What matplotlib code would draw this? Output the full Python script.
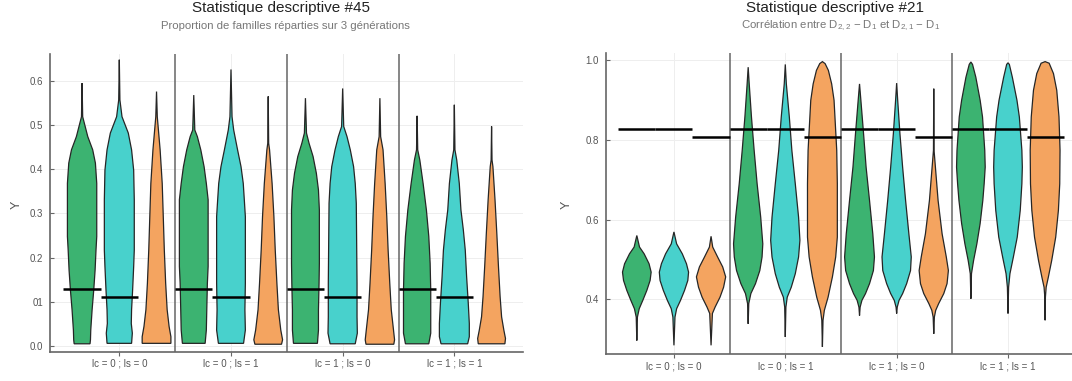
import numpy as np
import matplotlib
matplotlib.use('agg')
import matplotlib.pyplot as plt

plt.rcParams['font.family'] = ['Liberation Sans', 'DejaVu Sans']
plt.rcParams['mathtext.fontset'] = 'custom'
plt.rcParams['mathtext.rm'] = 'Liberation Sans'
plt.rcParams['mathtext.it'] = 'Liberation Sans:italic'

## Donnees
groupes = ['lc = 0 ; ls = 0', 'lc = 0 ; ls = 1', 'lc = 1 ; ls = 0', 'lc = 1 ; ls = 1']

# Statistique #45 : profils des violons (niveaux Y, densite relative), un par groupe
s45_vert_y = [[0.595, 0.519, 0.474, 0.444, 0.414, 0.368, 0.248, 0.217, 0.172, 0.127, 0.082, 0.036, 0.014, 0.005],
              [0.568, 0.489, 0.474, 0.444, 0.406, 0.368, 0.331, 0.180, 0.142, 0.082, 0.036, 0.006],
              [0.561, 0.482, 0.459, 0.429, 0.391, 0.353, 0.308, 0.187, 0.142, 0.082, 0.036, 0.006],
              [0.521, 0.444, 0.421, 0.368, 0.308, 0.248, 0.187, 0.127, 0.066, 0.029, 0.005]]
s45_vert_d = [[0, .04, .38, .71, .89, .98, .98, .93, .87, .78, .67, .58, .56, .53],
              [0, .07, .24, .47, .69, .84, .96, .96, .91, .87, .84, .76],
              [0, .07, .24, .51, .73, .87, .93, .93, .91, .87, .87, .80],
              [0, .04, .18, .40, .62, .78, .87, .91, .91, .91, .78]]
s45_cyan_y = [[0.648, 0.557, 0.519, 0.482, 0.444, 0.398, 0.331, 0.217, 0.180, 0.127, 0.082, 0.051, 0.029, 0.006],
              [0.626, 0.519, 0.489, 0.444, 0.406, 0.368, 0.331, 0.293, 0.142, 0.082, 0.036, 0.006],
              [0.583, 0.497, 0.474, 0.444, 0.406, 0.368, 0.323, 0.142, 0.066, 0.029, 0.005],
              [0.546, 0.444, 0.421, 0.368, 0.308, 0.263, 0.217, 0.157, 0.097, 0.051, 0.021, 0.005]]
s45_cyan_d = [[0, .04, .18, .60, .82, .96, 1, 1, .96, .89, .82, .80, .87, .82],
              [0, .07, .18, .44, .67, .82, .89, .96, .96, .93, .96, .84],
              [0, .07, .29, .51, .73, .84, .91, .96, .96, .98, .84],
              [0, .04, .16, .33, .44, .60, .73, .82, .93, 1, 1, .89]]
s45_orange_y = [[0.576, 0.519, 0.444, 0.368, 0.293, 0.217, 0.142, 0.082, 0.044, 0.021, 0.006],
                [0.565, 0.459, 0.444, 0.368, 0.293, 0.217, 0.142, 0.082, 0.036, 0.014, 0.004],
                [0.561, 0.474, 0.444, 0.368, 0.293, 0.217, 0.142, 0.082, 0.036, 0.014, 0.004],
                [0.497, 0.421, 0.406, 0.331, 0.255, 0.180, 0.112, 0.066, 0.036, 0.017, 0.005]]
s45_orange_d = [[0, .05, .24, .38, .45, .52, .61, .71, .84, .96, .96],
                [0, .03, .09, .26, .38, .47, .58, .68, .84, .96, .89],
                [0, .05, .21, .35, .46, .55, .66, .76, .91, .98, .93],
                [0, .03, .09, .23, .35, .46, .57, .67, .82, .93, .89]]
s45_ligne = [0.128, 0.111, None]

# Statistique #21
s21_vert_y = [[0.560, 0.531, 0.514, 0.489, 0.468, 0.447, 0.422, 0.397, 0.376, 0.355, 0.296],
              [0.983, 0.941, 0.858, 0.774, 0.690, 0.606, 0.539, 0.506, 0.472, 0.439, 0.414, 0.389, 0.338],
              [0.941, 0.900, 0.816, 0.732, 0.648, 0.564, 0.506, 0.472, 0.439, 0.414, 0.397, 0.380, 0.359],
              [0.996, 0.990, 0.958, 0.900, 0.858, 0.774, 0.732, 0.690, 0.648, 0.590, 0.539, 0.497, 0.464, 0.401]]
s21_vert_d = [[0, .18, .49, .82, .96, .89, .67, .40, .16, .04, 0],
              [0, .07, .22, .40, .60, .84, .98, .93, .78, .49, .18, .04, 0],
              [0, .09, .27, .44, .67, .89, 1, .93, .67, .40, .16, .04, 0],
              [0, .11, .33, .62, .78, .93, .96, .89, .80, .62, .40, .18, .04, 0]]
s21_cyan_y = [[0.569, 0.539, 0.514, 0.489, 0.468, 0.447, 0.422, 0.397, 0.376, 0.355, 0.284],
              [0.990, 0.941, 0.858, 0.774, 0.690, 0.606, 0.548, 0.506, 0.464, 0.430, 0.405, 0.380, 0.305],
              [0.943, 0.900, 0.816, 0.732, 0.648, 0.564, 0.506, 0.472, 0.439, 0.414, 0.397, 0.380, 0.364],
              [0.994, 0.990, 0.958, 0.900, 0.858, 0.774, 0.732, 0.690, 0.623, 0.556, 0.506, 0.464, 0.430, 0.364]]
s21_cyan_d = [[0, .18, .56, .84, .98, .93, .71, .44, .18, .07, 0],
              [0, .07, .27, .44, .67, .89, .98, .89, .67, .40, .13, .04, 0],
              [0, .07, .22, .40, .60, .82, .98, .93, .67, .40, .16, .04, 0],
              [0, .09, .29, .60, .76, .93, .96, .93, .82, .62, .36, .13, .04, 0]]
s21_orange_y = [[0.558, 0.531, 0.506, 0.481, 0.456, 0.430, 0.405, 0.380, 0.364, 0.284],
                [0.997, 0.992, 0.975, 0.941, 0.900, 0.858, 0.774, 0.690, 0.606, 0.556, 0.506, 0.456, 0.405, 0.372, 0.347, 0.280],
                [0.929, 0.774, 0.732, 0.648, 0.564, 0.506, 0.472, 0.439, 0.414, 0.389, 0.372, 0.355, 0.313],
                [0.997, 0.993, 0.967, 0.925, 0.858, 0.774, 0.690, 0.623, 0.556, 0.497, 0.456, 0.430, 0.405, 0.347]]
s21_orange_d = [[0, .11, .44, .78, .98, .84, .60, .27, .09, 0],
                [0, .18, .40, .62, .78, .84, .96, 1, 1, 1, .89, .67, .38, .13, .04, 0],
                [0, .02, .11, .29, .56, .84, .98, .89, .67, .33, .13, .04, 0],
                [0, .27, .56, .78, .93, 1, .98, .89, .71, .44, .22, .07, .02, 0]]
s21_ligne = [0.827, 0.827, 0.807]

## Style
couleurs = ['#3cb371', '#48d1cc', '#f4a460']
decalage = [-1/3, 0, 1/3]
demi_largeur = 0.134
gris = '#666666'


def violon(ax, xc, ys, ds, color):
    ys = np.asarray(ys)
    w = np.asarray(ds) * demi_largeur
    xs = np.concatenate([xc - w, (xc + w)[::-1]])
    yy = np.concatenate([ys, ys[::-1]])
    ax.fill(xs, yy, facecolor=color, edgecolor='#262626', linewidth=0.9, zorder=3)


def panneau(ax, profils, lignes, yticks, ylabels, ylim):
    for k, (ys_l, ds_l) in enumerate(profils):
        for g in range(len(groupes)):
            violon(ax, g + 1 + decalage[k], ys_l[g], ds_l[g], couleurs[k])
    for g in range(len(groupes)):
        for k, val in enumerate(lignes):
            if val is None:
                continue
            xc = g + 1 + decalage[k]
            ax.plot([xc - 1/6, xc + 1/6], [val, val], color='black', lw=1.8, zorder=5,
                    solid_capstyle='butt')
    for s in [1.5, 2.5, 3.5]:
        ax.axvline(s, color=gris, lw=1.1, zorder=4)
    ax.set_xticks(range(1, len(groupes) + 1))
    ax.set_xticklabels(groupes)
    ax.set_yticks(yticks)
    ax.set_yticklabels(ylabels)
    ax.set_ylim(ylim)
    ax.grid(True, color='#eeeeee', lw=0.7)
    ax.set_axisbelow(True)
    for s in ['top', 'right']:
        ax.spines[s].set_visible(False)
    for s in ['left', 'bottom']:
        ax.spines[s].set_color(gris)
        ax.spines[s].set_linewidth(1.2)
    ax.tick_params(axis='x', length=3, color=gris, labelsize=7, labelcolor='#555555', pad=2)
    ax.tick_params(axis='y', length=3, direction='in', color=gris, labelsize=7,
                   labelcolor='#555555', pad=5)


fig = plt.figure(figsize=(10.72, 3.81), dpi=100)

ax1 = fig.add_axes([0.0466, 0.0761, 0.4413, 0.7822])
panneau(ax1, [(s45_vert_y, s45_vert_d), (s45_cyan_y, s45_cyan_d), (s45_orange_y, s45_orange_d)],
        s45_ligne, [0, 0.1, 0.2, 0.3, 0.4, 0.5, 0.6],
        ['0.0', '01', '0.2', '0.3', '0.4', '0.5', '0.6'], (-0.0136, 0.661))
ax1.set_xlim(0.379, 4.615)

ax2 = fig.add_axes([0.565, 0.0696, 0.4397, 0.7906])
panneau(ax2, [(s21_vert_y, s21_vert_d), (s21_cyan_y, s21_cyan_d), (s21_orange_y, s21_orange_d)],
        s21_ligne, [0.4, 0.6, 0.8, 1.0], ['0.4', '0.6', '0.8', '1.0'], (0.261, 1.018))
ax2.set_xlim(0.387, 4.62)

# Titres
fig.text(0.262, 0.978, 'Statistique descriptive #45', ha='center', va='center', fontsize=11, color='#222222')
fig.text(0.266, 0.932, 'Proportion de familles réparties sur 3 générations', ha='center', va='center',
         fontsize=8.2, color='#777777')
fig.text(0.779, 0.978, 'Statistique descriptive #21', ha='center', va='center', fontsize=11, color='#222222')
fig.text(0.784, 0.932, r'Corrélation entre D$_{\mathrm{2,2}}$ − D$_{\mathrm{1}}$ et D$_{\mathrm{2,1}}$ − D$_{\mathrm{1}}$',
         ha='center', va='center', fontsize=8.2, color='#777777')

fig.text(0.016, 0.462, 'Y', rotation=90, ha='center', va='center', fontsize=9, color='#555555')
fig.text(0.529, 0.462, 'Y', rotation=90, ha='center', va='center', fontsize=9, color='#555555')

plt.savefig('out.png', dpi=100)
